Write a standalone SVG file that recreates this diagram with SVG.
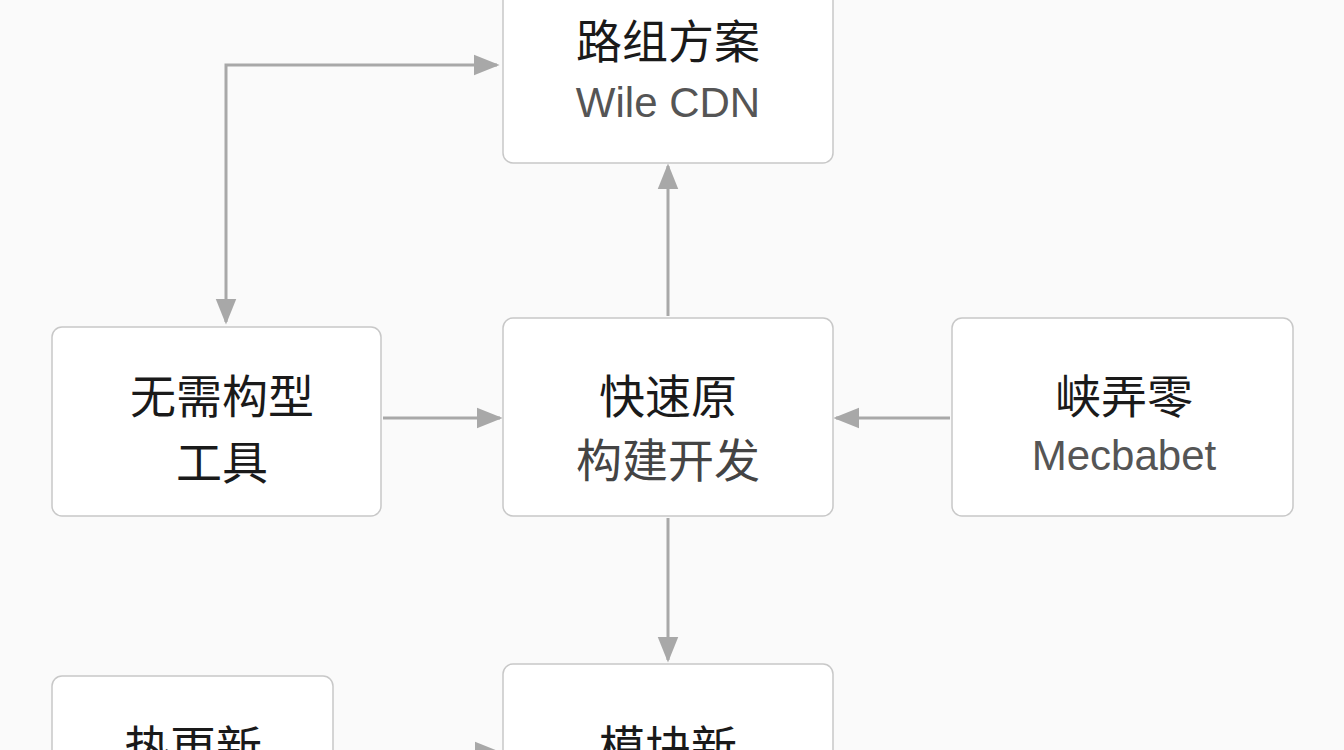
<svg xmlns="http://www.w3.org/2000/svg" width="1344" height="750" viewBox="0 0 1344 750">
<style>
.box{fill:#fff;stroke:#c8c8c8;stroke-width:1.5}
.t{font-family:"Noto Sans CJK SC","Liberation Sans",sans-serif;font-size:46px;fill:#1a1a1a;text-anchor:middle}
.s{font-family:"Liberation Sans","Noto Sans CJK SC",sans-serif;font-size:42px;fill:#555;text-anchor:middle}
.c{fill:none;stroke:#a8a8a8;stroke-width:3}
</style>
<defs>
<marker id="b" viewBox="0 0 10 10" refX="9" refY="5" markerWidth="26" markerHeight="26" markerUnits="userSpaceOnUse" orient="auto-start-reverse"><path d="M0,1L10,5L0,9z" fill="#a8a8a8"/></marker></defs>
<rect width="1344" height="750" fill="#fafafa"/>
<g id="connectors">
<path class="c" d="M226,322V65H497" marker-start="url(#b)" marker-end="url(#b)"/>
<path class="c" d="M383,418H500" marker-end="url(#b)"/>
<path class="c" d="M950,418H836" marker-end="url(#b)"/>
<path class="c" d="M668,316V166" marker-end="url(#b)"/>
<path class="c" d="M668,518V660" marker-end="url(#b)"/>
<path class="c" d="M340,752H498" marker-end="url(#b)"/>
</g>
<g id="n1"><rect class="box" x="503" y="-12" width="330" height="175" rx="10"/><text class="t" x="668" y="58">路组方案</text><text class="s" x="668" y="117">Wile CDN</text></g>
<g id="n2"><rect class="box" x="52" y="327" width="329" height="189" rx="10"/><text class="t" x="222" y="413">无需构型</text><text class="t" x="222" y="479">工具</text></g>
<g id="n3"><rect class="box" x="503" y="318" width="330" height="198" rx="10"/><text class="t" x="668" y="413">快速原</text><text class="t" x="668" y="477" style="fill:#444">构建开发</text></g>
<g id="n4"><rect class="box" x="952" y="318" width="341" height="198" rx="10"/><text class="t" x="1124" y="413">峡弄零</text><text class="s" x="1124" y="470">Mecbabet</text></g>
<g id="n5"><rect class="box" x="52" y="676" width="281" height="100" rx="10"/><text class="t" x="193" y="764">热更新</text></g>
<g id="n6"><rect class="box" x="503" y="664" width="330" height="110" rx="10"/><text class="t" x="668" y="764">模块新</text></g>
</svg>
